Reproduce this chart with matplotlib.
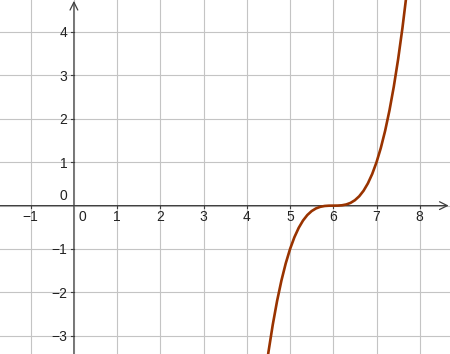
import matplotlib.pyplot as plt
import numpy as np

# curve points
xs = [4.4, 4.5, 4.6, 4.7, 4.8, 4.9, 5.0, 5.1, 5.2, 5.3, 5.4, 5.5, 5.6, 5.7,
      5.8, 5.9, 6.0, 6.1, 6.2, 6.3, 6.4, 6.5, 6.6, 6.7, 6.8, 6.9, 7.0, 7.1,
      7.2, 7.3, 7.4, 7.5, 7.6, 7.7, 7.8]
ys = [-4.096, -3.375, -2.744, -2.197, -1.728, -1.331, -1.0, -0.729, -0.512,
      -0.343, -0.216, -0.125, -0.064, -0.027, -0.008, -0.001, 0.0, 0.001,
      0.008, 0.027, 0.064, 0.125, 0.216, 0.343, 0.512, 0.729, 1.0, 1.331,
      1.728, 2.197, 2.744, 3.375, 4.096, 4.913, 5.832]

x_ticks = [-1, 1, 2, 3, 4, 5, 6, 7, 8]
y_ticks = [-3, -2, -1, 1, 2, 3, 4]

XMIN, XMAX = -1.71, 8.70
YMIN, YMAX = -3.42, 4.74

plt.rcParams['font.family'] = ['Liberation Sans', 'DejaVu Sans']

fig = plt.figure(figsize=(4.5, 3.54), dpi=100)
ax = fig.add_axes([0, 0, 1, 1])
ax.set_xlim(XMIN, XMAX)
ax.set_ylim(YMIN, YMAX)
ax.axis('off')

grid_c = '#c4c4c4'
for gx in range(-1, 9):
    ax.axvline(gx, color=grid_c, lw=0.8, zorder=0)
for gy in range(-3, 5):
    ax.axhline(gy, color=grid_c, lw=0.8, zorder=0)

axis_c = '#404040'
ax.annotate('', xy=(XMAX - 0.03, 0), xytext=(XMIN, 0),
            arrowprops=dict(arrowstyle='->', color=axis_c, lw=0.9,
                            shrinkA=0, shrinkB=0, mutation_scale=14))
ax.annotate('', xy=(0, YMAX - 0.02), xytext=(0, YMIN),
            arrowprops=dict(arrowstyle='->', color=axis_c, lw=0.9,
                            shrinkA=0, shrinkB=0, mutation_scale=14))

def lab(v):
    return str(v).replace('-', '\u2212')

for t in x_ticks:
    ax.plot([t, t], [0, -0.06], color=axis_c, lw=0.8, zorder=2)
    ax.text(t, -0.26, lab(t), ha='center', va='center', fontsize=10,
            color='#222222')
for t in y_ticks:
    ax.plot([-0.06, 0], [t, t], color=axis_c, lw=0.8, zorder=2)
    ax.text(-0.15, t - 0.03, lab(t), ha='right', va='center', fontsize=10,
            color='#222222')
ax.text(-0.15, 0.22, '0', ha='right', va='center', fontsize=10, color='#222222')
ax.text(0.11, -0.26, '0', ha='left', va='center', fontsize=10, color='#222222')

ax.plot(xs, ys, color='#993300', lw=1.9, zorder=3, solid_capstyle='round')

fig.savefig('out.png', dpi=100)
